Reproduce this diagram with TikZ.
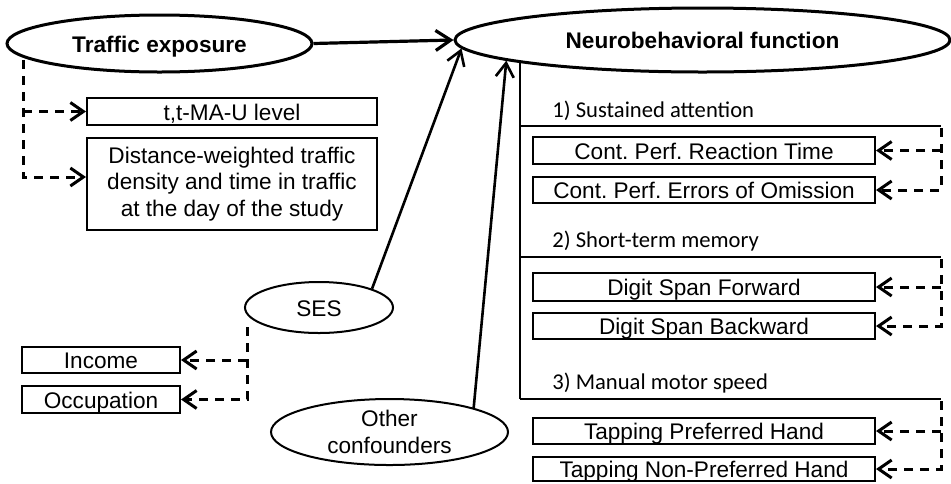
\documentclass[tikz,border=0pt]{standalone}
\usepackage{fontspec}
\setmainfont{Liberation Sans}
\newfontfamily\calib{Carlito}
\usetikzlibrary{shapes.geometric,arrows.meta}
\frenchspacing
\begin{document}
\begin{tikzpicture}[x=0.5pt,y=-0.5pt,
  font=\fontsize{11.3}{13.25}\selectfont,
  txt/.style={text height=9pt,text depth=0.5pt},
  bigoval/.style={ellipse,draw,line width=1.5pt,inner sep=0pt,txt,font=\fontsize{11.3}{13.25}\selectfont\bfseries},
  oval/.style={ellipse,draw,line width=1pt,inner sep=0pt},
  box/.style={rectangle,draw,line width=1pt,inner sep=0pt,txt},
  mainarrow/.style={line width=1.6pt,-{Straight Barb[length=7.5pt,width=10pt]}},
  confarrow/.style={line width=1.3pt,-{Straight Barb[length=7pt,width=9pt]}},
  dashline/.style={line width=1.5pt,dash pattern=on 4.5pt off 3.5pt,-{Straight Barb[length=6.5pt,width=9pt]}},
  trunk/.style={line width=0.9pt},
  section/.style={anchor=base west,inner sep=0pt,font=\calib\fontsize{11.3}{13.25}\selectfont}]
\useasboundingbox (0,0) rectangle (951,483);

% latent constructs
\node[bigoval,minimum width=152.5pt,minimum height=28.5pt] (te) at (159.5,43.5) {Traffic exposure};
\node[bigoval,minimum width=247.5pt,minimum height=32pt] (nf) at (702.5,40) {Neurobehavioral function};
\node[oval,txt,minimum width=74pt,minimum height=25.5pt] (ses) at (319,307.5) {SES};
\node[oval,align=center,minimum width=118.5pt,minimum height=33pt] (oth) at (389.5,432) {Other\\confounders};

% exposure indicators
\node[box,minimum width=145pt,minimum height=13.5pt] (tt) at (232,111.5) {t,t-MA-U level};
\node[rectangle,draw,line width=1pt,inner sep=0pt,align=center,minimum width=145pt,minimum height=46pt] (dist) at (232,184)
  {Distance-weighted traffic\\density and time in traffic\\at the day of the study};

% SES indicators
\node[box,minimum width=79pt,minimum height=13pt] (inc) at (101,360) {Income};
\node[box,minimum width=79pt,minimum height=13.5pt] (occ) at (101,399.5) {Occupation};

% outcome tests
\node[box,minimum width=171pt,minimum height=13.5pt] (rt) at (704,150.5) {Cont. Perf. Reaction Time};
\node[box,minimum width=171pt,minimum height=13pt] (om) at (704,190) {Cont. Perf. Errors of Omission};
\node[box,minimum width=171pt,minimum height=14pt] (dsf) at (704,287) {Digit Span Forward};
\node[box,minimum width=171pt,minimum height=13pt] (dsb) at (704,326) {Digit Span Backward};
\node[box,minimum width=171pt,minimum height=13pt] (tph) at (704,431) {Tapping Preferred Hand};
\node[box,minimum width=171pt,minimum height=12pt] (tnp) at (704,469) {Tapping Non-Preferred Hand};

% domain headings
\node[section] (h1) at (552,117) {1) Sustained attention};
\node[section] (h2) at (552,247) {2) Short-term memory};
\node[section] (h3) at (552,389) {3) Manual motor speed};

% structural paths
\draw[mainarrow] (te.east) -- (nf.west);
\draw[confarrow] (ses.north east) -- (nf.182);
\draw[confarrow] (oth.16) -- (nf.186);

% domain bracket under the outcome
\coordinate (top) at (520,62);
\coordinate (r1) at (941,126);
\coordinate (r2) at (941,257);
\coordinate (r3) at (941,399);
\draw[trunk] (top) -- (520,399);
\draw[trunk] (r1 -| top) -- (r1);
\draw[trunk] (r2 -| top) -- (r2);
\draw[trunk] (r3 -| top) -- (r3);

% measurement links
\coordinate (ted) at (23,60);
\draw[dashline] (ted) |- ([yshift=3.5pt]dist.west);
\draw[dashline] (ted |- tt.west) -- (tt.west);

\coordinate (sesd) at (247,327);
\draw[dashline] (sesd) |- (occ.east);
\draw[dashline] (sesd |- inc.east) -- (inc.east);

\coordinate (g1) at (941,128);
\draw[dashline] (g1) |- (om.east);
\draw[dashline] (g1 |- rt.east) -- (rt.east);

\coordinate (g2) at (941,259);
\draw[dashline] (g2) |- (dsb.east);
\draw[dashline] (g2 |- dsf.east) -- (dsf.east);

\coordinate (g3) at (941,401);
\draw[dashline] (g3) |- (tnp.east);
\draw[dashline] (g3 |- tph.east) -- (tph.east);
\end{tikzpicture}
\end{document}
